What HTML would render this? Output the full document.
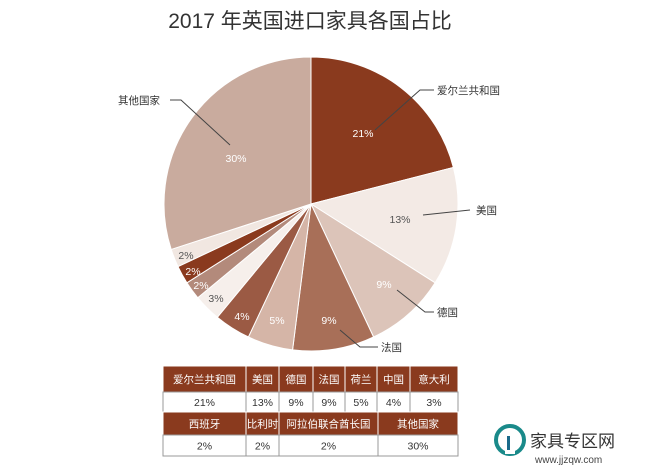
<!DOCTYPE html>
<html><head><meta charset="utf-8"><style>
body{margin:0;background:#fff;}
svg{display:block;font-family:"Liberation Sans","Noto Sans CJK SC",sans-serif;}
</style></head><body>
<svg id="s" width="651" height="475" viewBox="0 0 651 475">
<rect width="651" height="475" fill="#fff"/>
<text x="310" y="28" font-size="21" text-anchor="middle" fill="#333">2017 年英国进口家具各国占比</text>
<g id="pie"></g>
<g font-size="10.5" fill="#fff" text-anchor="middle">
<text x="363" y="137">21%</text>
<text x="400" y="223" fill="#555">13%</text>
<text x="384" y="288">9%</text>
<text x="329" y="324">9%</text>
<text x="277" y="324">5%</text>
<text x="242" y="320">4%</text>
<text x="216" y="302" fill="#555">3%</text>
<text x="201" y="289">2%</text>
<text x="193" y="275">2%</text>
<text x="186" y="259" fill="#555">2%</text>
<text x="236" y="162">30%</text>
</g>
<g stroke="#444" stroke-width="1" fill="none">
<polyline points="375,130 420,90 434,90"/>
<polyline points="423,215 470,210"/>
<polyline points="397,290 425,312 434,312"/>
<polyline points="340,330 360,347 378,347"/>
<polyline points="170,100 181,100 230,145"/>
</g>
<g font-size="10.5" fill="#333">
<text x="437" y="94">爱尔兰共和国</text>
<text x="476" y="214">美国</text>
<text x="437" y="316">德国</text>
<text x="381" y="351">法国</text>
<text x="118" y="104">其他国家</text>
</g>
<g id="tbl" font-size="10.5" text-anchor="middle"></g>
<g>
<circle cx="510" cy="440" r="14" fill="none" stroke="#1a8a8a" stroke-width="4"/>
<rect x="505" y="432" width="10" height="22" fill="#fff"/>
<rect x="507" y="436" width="3" height="14" fill="#1a6a8a"/>
<text x="530" y="447" font-size="17" fill="#333">家具专区网</text>
<text x="535" y="463" font-size="10" fill="#444">www.jjzqw.com</text>
</g>
</svg>
<script>
var cx=311,cy=204,r=147;
var d=[[21,"#8a3a1e"],[13,"#f3eae5"],[9,"#dcc4b9"],[9,"#a86f58"],[5,"#d5b5a7"],[4,"#9b5a44"],[3,"#f6efeb"],[2,"#b38a7b"],[2,"#8a3a1e"],[2,"#f1e7e1"],[30,"#c9ab9e"]];
var a=0,g=document.getElementById("pie"),h="";
d.forEach(function(e){var a0=a*2*Math.PI/100,a1=(a+e[0])*2*Math.PI/100;a+=e[0];
var x0=cx+r*Math.sin(a0),y0=cy-r*Math.cos(a0),x1=cx+r*Math.sin(a1),y1=cy-r*Math.cos(a1);
h+='<path d="M'+cx+','+cy+'L'+x0+','+y0+'A'+r+','+r+' 0 '+(e[0]>50?1:0)+' 1 '+x1+','+y1+'Z" fill="'+e[1]+'" stroke="#fff" stroke-width="1"/>';});
g.innerHTML=h;
var t=document.getElementById("tbl"),s="";
function row(y,hh,cols,head){cols.forEach(function(c){
s+='<rect x="'+c[0]+'" y="'+y+'" width="'+(c[1]-c[0])+'" height="'+hh+'" fill="'+(head?"#8a3a1e":"#fff")+'" stroke="'+(head?"#fff":"#999")+'" stroke-width="1"/>';
s+='<text x="'+(c[0]+c[1])/2+'" y="'+(y+hh/2+4)+'" fill="'+(head?"#fff":"#333")+'">'+c[2]+'</text>';});}
row(366,26,[[163,246,"爱尔兰共和国"],[246,279,"美国"],[279,313,"德国"],[313,345,"法国"],[345,377,"荷兰"],[377,410,"中国"],[410,458,"意大利"]],1);
row(392,20,[[163,246,"21%"],[246,279,"13%"],[279,313,"9%"],[313,345,"9%"],[345,377,"5%"],[377,410,"4%"],[410,458,"3%"]],0);
row(412,23,[[163,246,"西班牙"],[246,279,"比利时"],[279,378,"阿拉伯联合酋长国"],[378,458,"其他国家"]],1);
row(435,21,[[163,246,"2%"],[246,279,"2%"],[279,378,"2%"],[378,458,"30%"]],0);
t.innerHTML=s;
</script>
</body></html>
